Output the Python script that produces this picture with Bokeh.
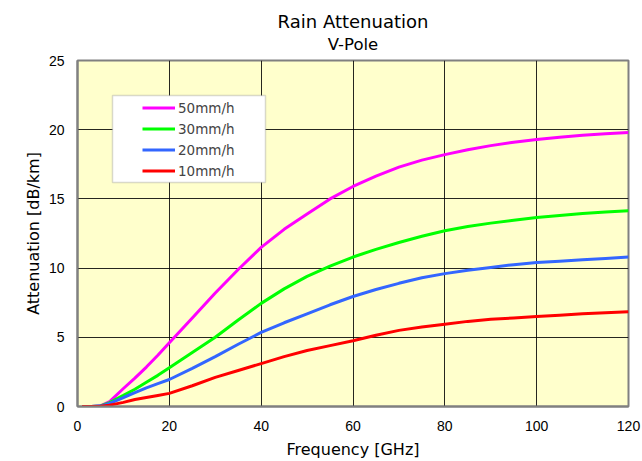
from bokeh.plotting import figure
from bokeh.models import Title, Legend, LegendItem, FixedTicker, Range1d, BoxAnnotation
from bokeh.embed import file_html
from bokeh.resources import INLINE

freq = [1, 3, 5, 7, 10, 12.5, 15, 17.5, 20, 25, 30, 35, 40, 45, 50, 55, 60, 65, 70, 75, 80, 85, 90, 95, 100, 105, 110, 115, 120]
att_50 = [0.0, 0.0, 0.05, 0.35, 1.3, 2.05, 2.85, 3.7, 4.6, 6.4, 8.2, 9.9, 11.5, 12.8, 13.9, 15.0, 15.9, 16.65, 17.3, 17.8, 18.2, 18.55, 18.85, 19.1, 19.3, 19.45, 19.6, 19.7, 19.8]
att_30 = [0.0, 0.0, 0.04, 0.28, 0.8, 1.25, 1.75, 2.25, 2.8, 3.9, 5.0, 6.25, 7.45, 8.5, 9.4, 10.15, 10.8, 11.35, 11.85, 12.3, 12.7, 13.0, 13.25, 13.45, 13.65, 13.8, 13.95, 14.05, 14.15]
att_20 = [0.0, 0.0, 0.03, 0.22, 0.65, 1.0, 1.35, 1.65, 1.95, 2.75, 3.6, 4.5, 5.35, 6.05, 6.7, 7.35, 7.95, 8.45, 8.9, 9.3, 9.6, 9.85, 10.05, 10.25, 10.4, 10.5, 10.6, 10.7, 10.8]
att_10 = [0.0, 0.0, 0.02, 0.1, 0.3, 0.5, 0.65, 0.8, 0.95, 1.5, 2.1, 2.6, 3.1, 3.6, 4.05, 4.4, 4.75, 5.15, 5.5, 5.75, 5.95, 6.15, 6.3, 6.4, 6.5, 6.6, 6.7, 6.78, 6.85]
series_labels = ["50mm/h", "30mm/h", "20mm/h", "10mm/h"]
series_colors = ["#FF00FF", "#00FF00", "#3366FF", "#FF0000"]
x_ticks = [0, 20, 40, 60, 80, 100, 120]
y_ticks = [0, 5, 10, 15, 20, 25]

FONT = "DejaVu Sans"
TICK_FONT = "Liberation Sans"

p = figure(width=642, height=461, output_backend="svg", toolbar_location=None,
           x_range=Range1d(0, 120), y_range=Range1d(0, 25),
           min_border_left=77, min_border_right=14, min_border_top=60, min_border_bottom=55)
p.background_fill_color = "#FFFFCC"
p.border_fill_color = "white"
p.outline_line_color = "#808080"
p.outline_line_width = 2

p.title.text = "Rain Attenuation"
p.title.align = "center"
p.title.text_font = FONT
p.title.text_font_size = "18px"
p.title.text_font_style = "normal"
p.title.text_color = "black"
p.title.offset = -16
p.title.standoff = -2
# small spacer between subtitle and plot frame (innermost)
p.add_layout(Title(text=" ", text_font_size="1px", standoff=2), "above")
p.add_layout(Title(text="V-Pole", align="center", text_font=FONT, offset=-16,
                   text_font_size="16.5px", text_font_style="normal", text_color="black",
                   standoff=4), "above")

# legend frame
p.add_layout(BoxAnnotation(left=7.62, right=40.94, bottom=16.18, top=22.47,
                           fill_color="white", fill_alpha=1.0,
                           line_color="#808080", line_width=1.5, level="annotation"))

series = [att_50, att_30, att_20, att_10]
items = []
for vals, lab, col in zip(series, series_labels, series_colors):
    r = p.line(freq, vals, line_color=col, line_width=3)
    items.append(LegendItem(label=lab, renderers=[r]))

legend = Legend(items=items, location=(65, 225), background_fill_alpha=0.0,
                border_line_color=None,
                label_text_font=FONT, label_text_font_size="13.5px", glyph_width=33,
                glyph_height=21, label_height=21, spacing=0, padding=0, margin=0,
                label_standoff=3)
p.add_layout(legend, "center")

for ax in (p.xaxis[0], p.yaxis[0]):
    ax.axis_line_color = "#808080"
    ax.axis_line_width = 2
    ax.major_tick_out = 0
    ax.major_tick_in = 0
    ax.minor_tick_out = 0
    ax.minor_tick_in = 0
    ax.major_label_text_font = TICK_FONT
    ax.major_label_text_font_size = "14px"
    ax.major_label_text_color = "black"
    ax.axis_label_text_font = FONT
    ax.axis_label_text_font_size = "16px"
    ax.axis_label_text_font_style = "normal"
    ax.axis_label_text_color = "black"

p.xaxis.ticker = FixedTicker(ticks=x_ticks)
p.yaxis.ticker = FixedTicker(ticks=y_ticks)
p.xaxis.axis_label = "Frequency [GHz]"
p.yaxis.axis_label = "Attenuation [dB/km]"
p.xaxis.major_label_standoff = 14
p.yaxis.major_label_standoff = 13
p.xaxis.axis_label_standoff = 6
p.yaxis.axis_label_standoff = 3

p.xgrid.grid_line_color = "black"
p.ygrid.grid_line_color = "black"
p.xgrid.grid_line_alpha = 0.85
p.ygrid.grid_line_alpha = 0.85
p.xgrid.grid_line_width = 1
p.ygrid.grid_line_width = 1

open("out.html", "w").write(file_html(p, INLINE))
